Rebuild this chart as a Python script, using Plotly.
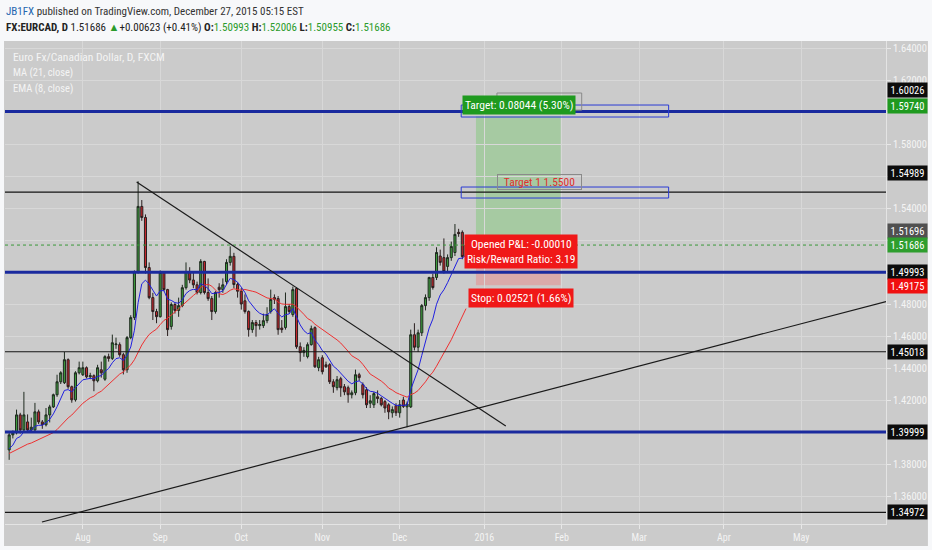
import numpy as np
import pandas as pd
import plotly.graph_objects as go

# ---------------- data (EURCAD daily, FXCM) ----------------
first_day = "2015-07-06"
month_ticks = ["2015-08", "2015-09", "2015-10", "2015-11", "2015-12",
               "2016-01", "2016-02", "2016-03", "2016-04", "2016-05"]
month_labels = ["Aug", "Sep", "Oct", "Nov", "Dec", "2016", "Feb", "Mar", "Apr", "May"]
price_ticks = [1.36, 1.38, 1.40, 1.42, 1.44, 1.46, 1.48, 1.50, 1.52, 1.54, 1.56, 1.58, 1.60, 1.62, 1.64]
hidden_ticks = [1.40, 1.50, 1.52, 1.56, 1.60]   # covered by the price labels in the original

# closes before the visible window (only used to warm up the MA / EMA)
warmup_close = [1.3720, 1.3750, 1.3780, 1.3800, 1.3830, 1.3850, 1.3880, 1.3900, 1.3870, 1.3850,
                1.3890, 1.3920, 1.3940, 1.3910, 1.3880, 1.3860, 1.3840, 1.3820, 1.3850, 1.3880, 1.3900]

open_ = [
    1.3888, 1.3982, 1.3995, 1.4107, 1.4013, 1.4063, 1.4013, 1.4013, 1.4126, 1.4063,
    1.4045, 1.4107, 1.4157, 1.4233, 1.4314, 1.4308, 1.4452, 1.4283, 1.4201, 1.4370,
    1.4358, 1.4402, 1.4345, 1.4352, 1.4320, 1.4389, 1.4330, 1.4471, 1.4460, 1.4546,
    1.4546, 1.4483, 1.4389, 1.4590, 1.4715, 1.5003, 1.5410, 1.5341, 1.5028, 1.4840, 1.4753,
    1.4721, 1.4997, 1.4890, 1.4660, 1.4797, 1.4760, 1.4790, 1.4902, 1.5003, 1.4950,
    1.4920, 1.4872, 1.5066, 1.4872, 1.4834, 1.4753, 1.4905, 1.4890, 1.4940, 1.5060,
    1.5098, 1.4922,
    1.4880, 1.4820, 1.4753, 1.4640, 1.4684, 1.4665, 1.4665, 1.4696, 1.4753, 1.4840,
    1.4834, 1.4650, 1.4653, 1.4784, 1.4734, 1.4897, 1.4533, 1.4496, 1.4471, 1.4546,
    1.4652, 1.4402,
    1.4464, 1.4420, 1.4421, 1.4314, 1.4277, 1.4333, 1.4283, 1.4277, 1.4233, 1.4245,
    1.4358, 1.4296, 1.4264, 1.4180, 1.4170, 1.4220, 1.4210, 1.4190, 1.4170, 1.4120,
    1.4165,
    1.4120, 1.4200, 1.4157, 1.4157, 1.4608, 1.4530, 1.4620, 1.4790, 1.4840, 1.4966,
    1.4966, 1.5100, 1.5090, 1.5035, 1.5090, 1.5122, 1.5248, 1.5248, 1.50993]

high = [
    1.3995, 1.4010, 1.4140, 1.4120, 1.4251, 1.4110, 1.4090, 1.4182, 1.4140, 1.4075,
    1.4150, 1.4170, 1.4240, 1.4358, 1.4380, 1.4500, 1.4460, 1.4290, 1.4380, 1.4440,
    1.4440, 1.4410, 1.4370, 1.4360, 1.4420, 1.4440, 1.4480, 1.4490, 1.4609, 1.4590,
    1.4560, 1.4495, 1.4600, 1.4730, 1.5010, 1.5567, 1.5450, 1.5360, 1.5060, 1.4870, 1.4770,
    1.5010, 1.5005, 1.4895, 1.4810, 1.4810, 1.4840, 1.4920, 1.5060, 1.5030, 1.5000,
    1.4940, 1.5080, 1.5070, 1.4960, 1.4850, 1.4880, 1.4930, 1.4960, 1.5080, 1.5160,
    1.5120, 1.4935,
    1.4900, 1.4860, 1.4760, 1.4700, 1.4700, 1.4700, 1.4740, 1.4780, 1.4890, 1.4860,
    1.4850, 1.4700, 1.4872, 1.4800, 1.4909, 1.4905, 1.4560, 1.4530, 1.4560, 1.4665,
    1.4660, 1.4470,
    1.4480, 1.4440, 1.4430, 1.4330, 1.4350, 1.4345, 1.4300, 1.4290, 1.4260, 1.4390,
    1.4370, 1.4310, 1.4280, 1.4230, 1.4250, 1.4260, 1.4220, 1.4200, 1.4180, 1.4160,
    1.4180,
    1.4200, 1.4220, 1.4190, 1.4640, 1.4680, 1.4640, 1.4800, 1.4860, 1.4970, 1.4990,
    1.5155, 1.5140, 1.5210, 1.5110, 1.5190, 1.5300, 1.5270, 1.5260, 1.52006]

low = [
    1.3826, 1.3960, 1.3985, 1.3990, 1.4000, 1.4005, 1.3995, 1.4005, 1.4050, 1.4020,
    1.4035, 1.4060, 1.4150, 1.4220, 1.4300, 1.4300, 1.4270, 1.4183, 1.4190, 1.4360,
    1.4350, 1.4335, 1.4330, 1.4255, 1.4310, 1.4340, 1.4320, 1.4440, 1.4450, 1.4520,
    1.4470, 1.4360, 1.4370, 1.4580, 1.4700, 1.4990, 1.5320, 1.4990, 1.4830, 1.4700, 1.4680,
    1.4715, 1.4880, 1.4600, 1.4640, 1.4740, 1.4720, 1.4780, 1.4890, 1.4930, 1.4900,
    1.4860, 1.4860, 1.4860, 1.4820, 1.4700, 1.4740, 1.4840, 1.4870, 1.4920, 1.5040,
    1.4900, 1.4840,
    1.4765, 1.4740, 1.4596, 1.4620, 1.4596, 1.4640, 1.4650, 1.4680, 1.4740, 1.4800,
    1.4608, 1.4620, 1.4640, 1.4740, 1.4720, 1.4520, 1.4440, 1.4470, 1.4460, 1.4540,
    1.4400, 1.4380,
    1.4360, 1.4400, 1.4300, 1.4245, 1.4260, 1.4220, 1.4230, 1.4183, 1.4210, 1.4230,
    1.4320, 1.4210, 1.4150, 1.4150, 1.4150, 1.4180, 1.4160, 1.4120, 1.4080, 1.4090,
    1.4100,
    1.4090, 1.4150, 1.4030, 1.4150, 1.4510, 1.4500, 1.4600, 1.4760, 1.4820, 1.4890,
    1.4950, 1.5040, 1.4990, 1.5000, 1.5070, 1.5100, 1.5220, 1.5080, 1.50955]

close = [
    1.3982, 1.3995, 1.4107, 1.4013, 1.4107, 1.4013, 1.4030, 1.4126, 1.4063, 1.4045,
    1.4107, 1.4157, 1.4233, 1.4314, 1.4370, 1.4452, 1.4283, 1.4201, 1.4370, 1.4402,
    1.4402, 1.4345, 1.4352, 1.4320, 1.4402, 1.4370, 1.4471, 1.4460, 1.4558, 1.4550,
    1.4483, 1.4389, 1.4590, 1.4715, 1.5003, 1.5410, 1.5341, 1.5028, 1.4840, 1.4753, 1.4721,
    1.4997, 1.4890, 1.4640, 1.4797, 1.4760, 1.4790, 1.4902, 1.5003, 1.4950, 1.4920,
    1.4872, 1.5066, 1.4872, 1.4834, 1.4753, 1.4872, 1.4890, 1.4920, 1.5060, 1.5098,
    1.4922, 1.4880,
    1.4800, 1.4753, 1.4640, 1.4684, 1.4665, 1.4672, 1.4696, 1.4734, 1.4828, 1.4830,
    1.4640, 1.4640, 1.4784, 1.4753, 1.4890, 1.4533, 1.4496, 1.4510, 1.4546, 1.4646,
    1.4408, 1.4452,
    1.4377, 1.4408, 1.4314, 1.4283, 1.4327, 1.4277, 1.4251, 1.4233, 1.4245, 1.4358,
    1.4340, 1.4233, 1.4170, 1.4195, 1.4240, 1.4210, 1.4170, 1.4150, 1.4126, 1.4140,
    1.4120,
    1.4170, 1.4160, 1.4175, 1.4608, 1.4530, 1.4620, 1.4790, 1.4840, 1.4966, 1.4903,
    1.5122, 1.5060, 1.5003, 1.5090, 1.5160, 1.5235, 1.5240, 1.5097, 1.51686]

# horizontal levels drawn by the author
blue_levels = [1.60026, 1.49993, 1.39999]
black_levels = [1.54989, 1.45018, 1.34972]
last_price = 1.51686
entry_price = 1.51696
target_price = 1.59740
stop_price = 1.49175
target1_price = 1.5500

# trend lines: (bar index, price) end points
down_trend = [(34.6, 1.55625), (134.8, 1.40375)]
up_trend = [(8.9, 1.34375), (238.0, 1.4815)]

# ---------------- derived ----------------
n = len(close)
x_idx = list(range(n))
days = pd.bdate_range(first_day, "2016-06-30")
ym = days.strftime("%Y-%m")
tickvals = [int(np.argmax(ym == m)) for m in month_ticks]
price_ticktext = ["" if any(abs(t - h) < 1e-9 for h in hidden_ticks) else f"{t:.5f}"
                  for t in price_ticks]

full = pd.Series(warmup_close + close)
k = len(warmup_close)
ma21 = full.rolling(21).mean().iloc[k:].tolist()
ema8 = full.ewm(span=8, adjust=False).mean().iloc[k:].tolist()

FONT = "Roboto Condensed, Roboto, Liberation Sans, sans-serif"
PANEL = "#cbcbcb"
GRID = "#d8d8d8"

fig = go.Figure()
fig.add_trace(go.Candlestick(
    x=x_idx, open=open_, high=high, low=low, close=close,
    increasing=dict(fillcolor="#3e9d3e", line=dict(color="#1f2a1f", width=1)),
    decreasing=dict(fillcolor="#c4262b", line=dict(color="#2a1f1f", width=1)),
    whiskerwidth=0, hoverinfo="skip", showlegend=False))
fig.add_trace(go.Scatter(x=x_idx, y=ma21, mode="lines",
                         line=dict(color="#ee3030", width=1), hoverinfo="skip"))
fig.add_trace(go.Scatter(x=x_idx, y=ema8, mode="lines",
                         line=dict(color="#2020e0", width=1), hoverinfo="skip"))

shapes = []
# panel background (extends under axes)
shapes.append(dict(type="rect", xref="paper", yref="paper", x0=-0.0011, x1=1.0476,
                   y0=-0.0455, y1=1.0, fillcolor=PANEL, line=dict(width=0), layer="below"))
# position tool zones
pos_x0, pos_x1 = 126.7, 149.7
shapes.append(dict(type="rect", xref="x", yref="y", x0=pos_x0, x1=pos_x1, y0=entry_price,
                   y1=target_price, fillcolor="rgba(110,200,100,0.40)", line=dict(width=0),
                   layer="below"))
shapes.append(dict(type="rect", xref="x", yref="y", x0=pos_x0, x1=pos_x1, y0=stop_price,
                   y1=entry_price, fillcolor="rgba(240,120,120,0.40)", line=dict(width=0),
                   layer="below"))
# current price dotted
shapes.append(dict(type="line", xref="paper", yref="y", x0=0, x1=1, y0=last_price, y1=last_price,
                   line=dict(color="#3a9a3a", width=1, dash="dot")))
for lv in black_levels:
    shapes.append(dict(type="line", xref="paper", yref="y", x0=0, x1=1, y0=lv, y1=lv,
                       line=dict(color="#151515", width=1.2)))
for lv in blue_levels:
    shapes.append(dict(type="line", xref="paper", yref="y", x0=0, x1=1, y0=lv, y1=lv,
                       line=dict(color="#1a2a9e", width=3)))
for (xa, ya), (xb, yb) in [down_trend, up_trend]:
    shapes.append(dict(type="line", xref="x", yref="y", x0=xa, y0=ya, x1=xb, y1=yb,
                       line=dict(color="#1a1a1a", width=1.2)))
# blue outline rectangles
for y0, y1 in [(1.59688, 1.60438), (1.54625, 1.55313)]:
    shapes.append(dict(type="rect", xref="x", yref="y", x0=122.7, x1=179.0, y0=y0, y1=y1,
                       line=dict(color="#2b3bd4", width=1), fillcolor="rgba(0,0,0,0)"))
# hidden text box behind target label
shapes.append(dict(type="rect", xref="x", yref="y", x0=132.4, x1=155.4, y0=1.6012, y1=1.6119,
                   line=dict(color="#8a8a8a", width=1), fillcolor="rgba(0,0,0,0)"))

ann = []
def paper_xy(px, py):
    return (px - 5) / 883.0, (524 - py) / 483.0

hx, hy = paper_xy(4, 11)
ann.append(dict(xref="paper", yref="paper", x=hx, y=hy, xanchor="left", yanchor="middle",
                showarrow=False, font=dict(family=FONT, size=11, color="#333333"),
                text="<span style='color:#2466b0'>JB1FX</span> published on TradingView.com, "
                     "December 27, 2015 05:15 EST"))
g = "#2b9b2b"
hx, hy = paper_xy(4, 28)
ann.append(dict(xref="paper", yref="paper", x=hx, y=hy, xanchor="left", yanchor="middle",
                showarrow=False, font=dict(family=FONT, size=11, color="#222222"),
                text=f"<b>FX:EURCAD, D</b> 1.51686 <span style='color:{g}'>▲</span>+0.00623 (+0.41%) "
                     f"<b>O:</b><span style='color:{g}'>1.50993</span> "
                     f"<b>H:</b><span style='color:{g}'>1.52006</span> "
                     f"<b>L:</b><span style='color:{g}'>1.50955</span> "
                     f"<b>C:</b><span style='color:{g}'>1.51686</span>"))
for txt, py, sz in [("Euro Fx/Canadian Dollar, D, FXCM", 57, 11.5),
                    ("MA (21, close)", 73, 10.5), ("EMA (8, close)", 89, 10.5)]:
    lx, ly = paper_xy(11, py)
    ann.append(dict(xref="paper", yref="paper", x=lx, y=ly, xanchor="left", yanchor="middle",
                    showarrow=False, text=txt, font=dict(family=FONT, size=sz, color="#f4f4f4")))

# price scale labels
scale_labels = [(1.60026, "#0c0c0c", 21.6), (1.59740, "#1f9a1f", 10), (1.54989, "#0c0c0c", 19),
                (1.51696, "#505050", 14), (1.51686, "#2e9e2e", 0), (1.49993, "#0c0c0c", 0),
                (1.49175, "#f01010", -1), (1.45018, "#0c0c0c", 0), (1.39999, "#0c0c0c", 0),
                (1.34972, "#0c0c0c", 0)]
for p, col, ys in scale_labels:
    ann.append(dict(xref="paper", yref="y", x=1, y=p, xanchor="left", yanchor="middle",
                    xshift=1, yshift=ys, showarrow=False, text=f"{p:.5f}", bgcolor=col,
                    width=37, height=12, borderpad=1,
                    font=dict(family=FONT, size=10.5, color="#ffffff")))

mid = (pos_x0 + pos_x1) / 2
ann.append(dict(x=mid + 0.3, y=target_price, xref="x", yref="y", yanchor="bottom", yshift=1,
                showarrow=False, text="Target: 0.08044 (5.30%)", bgcolor="#1f9a1f",
                borderpad=2, font=dict(family=FONT, size=11.5, color="#ffffff")))
ann.append(dict(x=143.9, y=target1_price, xref="x", yref="y", yanchor="bottom", yshift=2,
                showarrow=False, text="Target 1 1.5500", bordercolor="#8a8a8a", borderwidth=1,
                borderpad=0, width=83, font=dict(family=FONT, size=11.5, color="#e03030")))
ann.append(dict(x=mid + 0.6, y=entry_price, xref="x", yref="y", yanchor="middle", yshift=-6.5,
                showarrow=False, text="Opened P&amp;L: -0.00010<br>Risk/Reward Ratio: 3.19",
                bgcolor="#f01818", borderpad=2,
                font=dict(family=FONT, size=11.5, color="#ffffff")))
ann.append(dict(x=mid + 0.7, y=stop_price, xref="x", yref="y", yanchor="top", yshift=-3,
                showarrow=False, text="Stop: 0.02521 (1.66%)", bgcolor="#f01818", borderpad=2,
                font=dict(family=FONT, size=11.5, color="#ffffff")))

fig.update_layout(
    width=932, height=550, margin=dict(l=5, r=44, t=41, b=26),
    paper_bgcolor="#f7f8fa", plot_bgcolor=PANEL, showlegend=False, boxgap=0.2,
    shapes=shapes, annotations=ann, font=dict(family=FONT),
    xaxis=dict(range=[-1.13, 238.0], tickmode="array", tickvals=tickvals, ticktext=month_labels,
               showgrid=True, gridcolor=GRID, gridwidth=1, zeroline=False,
               rangeslider=dict(visible=False), ticks="outside", ticklen=4, tickcolor="#e8e8e8",
               tickfont=dict(family=FONT, size=10, color="#f4f4f4"),
               showline=True, linecolor="#e4e4e4", linewidth=1, fixedrange=True),
    yaxis=dict(side="right", range=[1.3425, 1.6444], tickmode="array", tickvals=price_ticks,
               ticktext=price_ticktext,
               showgrid=True, gridcolor=GRID, gridwidth=1, zeroline=False,
               ticks="outside", ticklen=4, tickcolor="#e8e8e8",
               tickfont=dict(family=FONT, size=10.5, color="#f4f4f4"),
               showline=True, linecolor="#e4e4e4", linewidth=1, fixedrange=True),
)

fig.write_html("out.html", config={"displayModeBar": False},
               post_script="document.body.style.margin='0';")
